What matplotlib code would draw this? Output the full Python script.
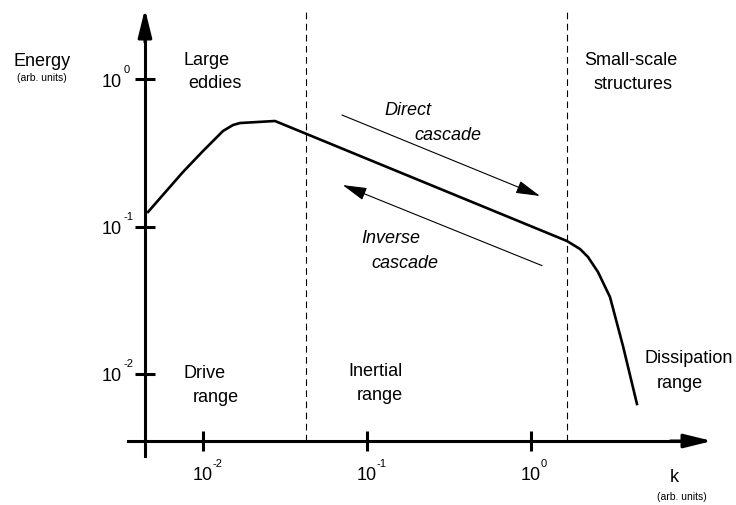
import matplotlib.pyplot as plt
from matplotlib.ticker import FixedLocator, FixedFormatter, NullLocator

# energy spectrum, values (arb. units)
k_values = [0.00462, 0.00755, 0.0100, 0.01324, 0.01524, 0.01681, 0.02748,
            1.658, 1.990, 2.227, 2.562, 3.032, 3.639, 4.429]
energy_values = [0.1254, 0.2342, 0.3249, 0.4441, 0.4876, 0.5030, 0.5192,
                 0.07972, 0.07039, 0.06211, 0.04914, 0.03327, 0.01548, 0.00626]

k_ticks = [1e-2, 1e-1, 1e0]
energy_ticks = [1e-2, 1e-1, 1e0]
tick_exponents = ["-2", "-1", "0"]

# borders between drive / inertial / dissipation ranges
range_bounds = [0.0422, 1.658]

# cascade arrows: (k_start, E_start, k_end, E_end)
direct_cascade = (0.0704, 0.570, 1.135, 0.161)
inverse_cascade = (1.167, 0.0543, 0.0711, 0.191)

W, H = 736, 506

plt.rcParams['font.family'] = ['Liberation Sans', 'DejaVu Sans']


def fig_xy(x, y):
    # pixel position in the 736x506 picture -> figure fraction
    return x / W, 1 - y / H


def plot_spectrum():
    fig = plt.figure(figsize=(W / 100, H / 100), dpi=100)
    x0, y1 = fig_xy(128, 10)
    x1, y0 = fig_xy(712, 457)
    ax = fig.add_axes([x0, y0, x1 - x0, y1 - y0])

    ax.set_xscale('log')
    ax.set_yscale('log')
    xlim = (0.003489, 12.70)
    ylim = (0.002780, 2.983)
    ax.set_xlim(*xlim)
    ax.set_ylim(*ylim)
    y_axis_at = 0.004428
    x_axis_at = 0.003513

    # axes crossing inside the plot, with arrows
    for side in ['top', 'right']:
        ax.spines[side].set_visible(False)
    ax.spines['left'].set_position(('data', y_axis_at))
    ax.spines['bottom'].set_position(('data', x_axis_at))
    ax.spines['left'].set_bounds(ylim[0], 10 ** 0.3)
    ax.spines['bottom'].set_bounds(xlim[0], 10 ** 0.9)
    for side in ['left', 'bottom']:
        ax.spines[side].set_linewidth(2.2)

    head = dict(arrowstyle='-|>,head_length=1.7,head_width=0.42', color='black',
                lw=2.2, shrinkA=0, shrinkB=0)
    ax.annotate('', xy=(y_axis_at, ylim[1]), xytext=(y_axis_at, 10 ** 0.25),
                arrowprops=head, annotation_clip=False)
    ax.annotate('', xy=(xlim[1], x_axis_at), xytext=(10 ** 0.85, x_axis_at),
                arrowprops=head, annotation_clip=False)

    # ticks: "10" as the tick label, the exponent as a small raised text
    ax.xaxis.set_major_locator(FixedLocator(k_ticks))
    ax.yaxis.set_major_locator(FixedLocator(energy_ticks))
    ax.xaxis.set_minor_locator(NullLocator())
    ax.yaxis.set_minor_locator(NullLocator())
    ax.xaxis.set_major_formatter(FixedFormatter(["10"] * len(k_ticks)))
    ax.yaxis.set_major_formatter(FixedFormatter(["10"] * len(energy_ticks)))
    ax.tick_params(direction='inout', length=14.4, width=2.2, labelsize=13)
    ax.tick_params(axis='x', pad=10.5)
    ax.tick_params(axis='y', pad=9.8)
    for t, e in zip(k_ticks, tick_exponents):
        ax.annotate(e, xy=(t, x_axis_at), xytext=(7.0, -18.0), textcoords='offset points',
                    ha='left', va='baseline', fontsize=8, annotation_clip=False)
    for t, e in zip(energy_ticks, tick_exponents):
        ax.annotate(e, xy=(y_axis_at, t), xytext=(-15.6, 5.4), textcoords='offset points',
                    ha='left', va='baseline', fontsize=8, annotation_clip=False)

    # range borders
    for kb in range_bounds:
        ax.plot([kb, kb], [x_axis_at, ylim[1]], color='black', lw=0.8,
                linestyle=(0, (6, 4)), clip_on=False)

    # spectrum
    ax.plot(k_values, energy_values, color='black', lw=1.9, solid_joinstyle='round')

    # cascade arrows
    thin = dict(arrowstyle='-|>,head_length=1.5,head_width=0.4', color='black',
                lw=0.8, shrinkA=0, shrinkB=0)
    for ks, es, ke, ee in [direct_cascade, inverse_cascade]:
        ax.annotate('', xy=(ke, ee), xytext=(ks, es), arrowprops=thin)

    # labels: text, centre x, baseline y (pixels), size, style
    labels = [
        ("Energy", 42, 66, 13, 'normal'),
        ("(arb. units)", 42, 81, 7.5, 'normal'),
        ("Large", 207, 65, 13, 'normal'),
        ("eddies", 215, 88, 13, 'normal'),
        ("Small-scale", 631, 65, 13, 'normal'),
        ("structures", 633, 89, 13, 'normal'),
        ("Drive", 205, 378, 13, 'normal'),
        ("range", 216, 402, 13, 'normal'),
        ("Inertial", 375, 376, 13, 'normal'),
        ("range", 380, 400, 13, 'normal'),
        ("Dissipation", 689, 363, 13, 'normal'),
        ("range", 680, 388, 13, 'normal'),
        ("Direct", 408, 115, 13, 'italic'),
        ("cascade", 448, 140, 13, 'italic'),
        ("Inverse", 391, 243, 13, 'italic'),
        ("cascade", 405, 268, 13, 'italic'),
        ("k", 674, 482, 13, 'normal'),
        ("(arb. units)", 682, 500, 7.5, 'normal'),
    ]
    for text, x, y, size, style in labels:
        fx, fy = fig_xy(x, y)
        fig.text(fx, fy, text, ha='center', va='baseline', fontsize=size, fontstyle=style)

    fig.savefig('out.png', dpi=100)


if __name__ == "__main__":
    plot_spectrum()
